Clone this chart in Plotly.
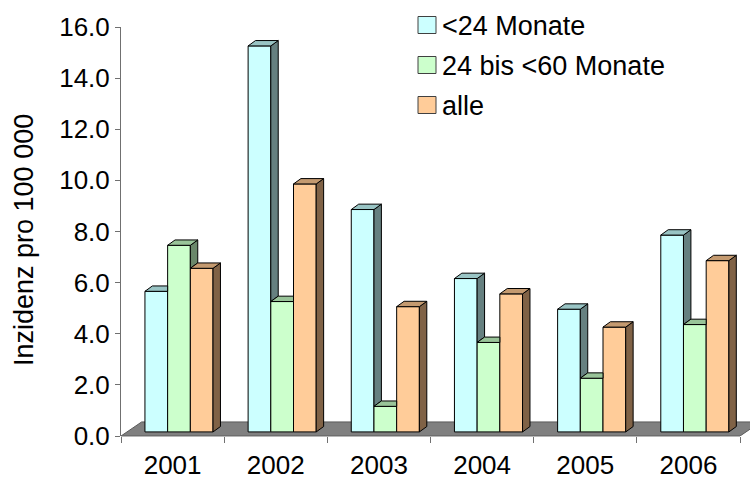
import plotly.graph_objects as go

# ---------------- data ----------------
categories = ["2001", "2002", "2003", "2004", "2005", "2006"]
series_names = ["<24 Monate", "24 bis <60 Monate", "alle"]
lt24 = [5.5, 15.1, 8.7, 6.0, 4.8, 7.7]
m24_60 = [7.3, 5.1, 1.0, 3.5, 2.1, 4.2]
alle = [6.4, 9.7, 4.9, 5.4, 4.1, 6.7]
y_ticks = [0, 2, 4, 6, 8, 10, 12, 14, 16]
y_tick_labels = [f"{v:.1f}" for v in y_ticks]
y_title = "Inzidenz pro 100 000"

# ---------------- style ----------------
FONT = "Liberation Sans, Arial, sans-serif"
FS_TICK = 26
FS_TEXT = 27
front_colors = ["#CCFFFF", "#CCFFCC", "#FFCC99"]
side_colors = ["#668080", "#6A876A", "#806246"]
top_colors = ["#99C4C4", "#99C499", "#C49A70"]
AXIS_COLOR = "#707070"

W, H = 750, 479
ML, MR, MT, MB = 121, 0, 27, 43
PW, PH = W - ML - MR, H - MT - MB

BAR_W = 0.22     # category units
SHIFT = 0.062    # depth shift of the bar row
BASE = 0.16      # bars stand slightly behind the floor front edge
DX = 0.072       # 3D depth in x units
DY = 0.21        # 3D depth in y units
FDX, FDY = 0.2, 0.55   # floor depth
PX_PER_CAT = 103.17

ncat = len(categories)
xmin, xmax = -0.5, ncat - 0.5
x_range = [xmin, xmin + PW / PX_PER_CAT]

series = [lt24, m24_60, alle]
nser = len(series)

fig = go.Figure()

# front faces (real bars)
centers = []
for k, vals in enumerate(series):
    xs = [i + SHIFT + (k - (nser - 1) / 2) * BAR_W for i in range(ncat)]
    centers.append(xs)
    fig.add_trace(go.Bar(
        x=xs, y=vals, base=BASE, width=BAR_W, name=series_names[k],
        marker=dict(color=front_colors[k], line=dict(color="black", width=1)),
        showlegend=False, hovertemplate="%{y:.1f}<extra>" + series_names[k] + "</extra>",
    ))

# side and top faces (derived from the same values)
for k, vals in enumerate(series):
    sx, sy, tx, ty = [], [], [], []
    for i in range(ncat):
        c = centers[k][i]
        l, r = c - BAR_W / 2, c + BAR_W / 2
        t = BASE + vals[i]
        nt = BASE + series[k + 1][i] if k + 1 < nser else None
        lower = BASE if nt is None else nt
        if t > lower:
            sx += [r, r, r + DX, r + DX, r, None]
            sy += [lower, t, t + DY, lower + DY, lower, None]
        if nt is not None and nt >= t:
            tx += [l, r, r, l + DX, l, None]
            ty += [t, t, t + DY, t + DY, t, None]
        else:
            tx += [l, r, r + DX, l + DX, l, None]
            ty += [t, t, t + DY, t + DY, t, None]
    fig.add_trace(go.Scatter(x=sx, y=sy, mode="lines", fill="toself",
                             fillcolor=side_colors[k], line=dict(color="black", width=1),
                             hoverinfo="skip", showlegend=False))
    fig.add_trace(go.Scatter(x=tx, y=ty, mode="lines", fill="toself",
                             fillcolor=top_colors[k], line=dict(color="black", width=1),
                             hoverinfo="skip", showlegend=False))

# floor
floor_path = (f"M {xmin},0 L {xmax},0 L {xmax + FDX},{FDY} "
              f"L {xmin + FDX},{FDY} Z")
shapes = [
    dict(type="path", path=floor_path, xref="x", yref="y", layer="below",
         fillcolor="#808080", line=dict(color="#5a5a5a", width=1)),
    dict(type="line", xref="x", yref="paper", x0=xmin, x1=xmax, y0=0, y1=0,
         line=dict(color=AXIS_COLOR, width=1)),
]

# legend (manual, matching the original boxes)
def px_to_paper_x(px):
    return (px - ML) / PW

def px_to_paper_y(py):
    return (MT + PH - py) / PH

annotations = []
for k, name in enumerate(series_names):
    yc = 25 + 40 * k
    shapes.append(dict(type="rect", xref="paper", yref="paper",
                       x0=px_to_paper_x(418), x1=px_to_paper_x(436),
                       y0=px_to_paper_y(yc - 8.5), y1=px_to_paper_y(yc + 8.5),
                       fillcolor=front_colors[k], line=dict(color="#404040", width=1)))
    annotations.append(dict(text=name, xref="paper", yref="paper",
                            x=px_to_paper_x(440), y=px_to_paper_y(yc + 1),
                            xanchor="left", yanchor="middle", showarrow=False,
                            font=dict(family=FONT, size=FS_TEXT, color="black")))

annotations.append(dict(text=y_title, xref="paper", yref="paper",
                        x=px_to_paper_x(24), y=px_to_paper_y(240),
                        xanchor="center", yanchor="middle", textangle=-90,
                        showarrow=False, font=dict(family=FONT, size=FS_TEXT, color="black")))

fig.update_layout(
    width=W, height=H,
    margin=dict(l=ML, r=MR, t=MT, b=MB, pad=0, autoexpand=False),
    paper_bgcolor="white", plot_bgcolor="white",
    barmode="overlay", showlegend=False,
    font=dict(family=FONT, size=FS_TICK, color="black"),
    shapes=shapes, annotations=annotations,
    xaxis=dict(range=x_range, tickmode="array", tickvals=list(range(ncat)),
               ticktext=categories, ticks="", showline=False, showgrid=False,
               zeroline=False, fixedrange=True, ticklabelstandoff=11,
               automargin=False,
               tickfont=dict(family=FONT, size=FS_TICK, color="black"),
               minor=dict(tick0=-0.5, dtick=1, ticks="outside", ticklen=6,
                          tickcolor=AXIS_COLOR, tickwidth=1, showgrid=False)),
    yaxis=dict(range=[0, 16], tickmode="array", tickvals=y_ticks,
               ticktext=y_tick_labels, ticks="outside", ticklen=5,
               tickcolor=AXIS_COLOR, showline=True, linecolor=AXIS_COLOR,
               linewidth=1, showgrid=False, zeroline=False, fixedrange=True,
               ticklabelstandoff=0, automargin=False,
               tickfont=dict(family=FONT, size=FS_TICK, color="black")),
)

fig.write_html("out.html", config={"displayModeBar": False},
               post_script="document.body.style.margin='0';document.body.style.padding='0';")
